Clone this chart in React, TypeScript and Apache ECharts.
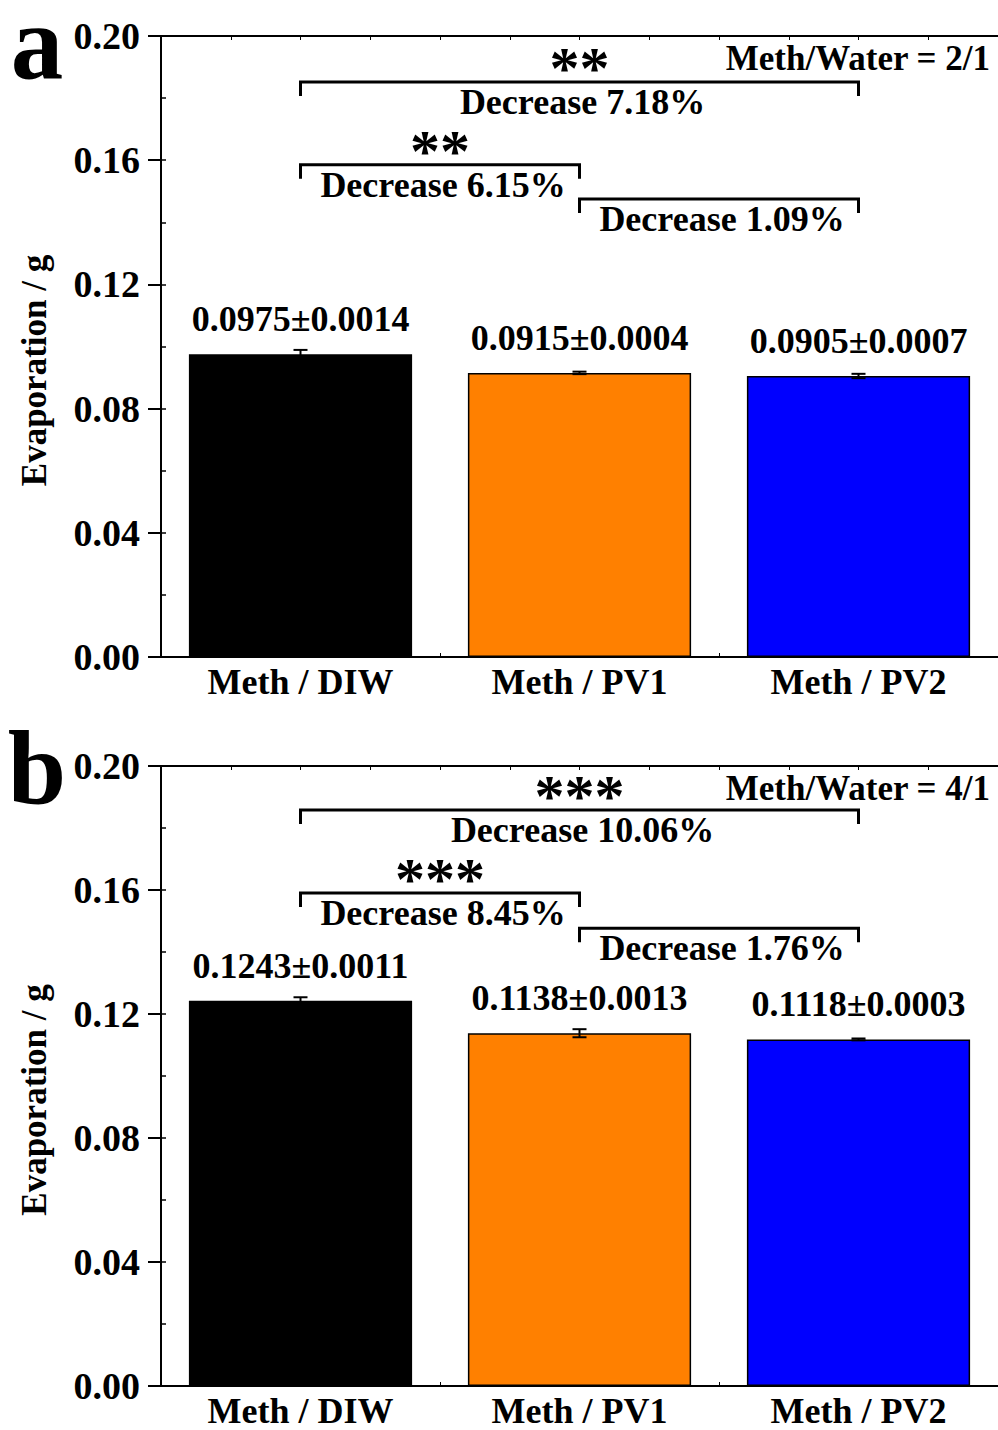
import React, { useEffect, useRef } from "react";
import * as echarts from "echarts";

const categories = ["Meth / DIW", "Meth / PV1", "Meth / PV2"];
const barColors = ["#000000", "#FF8000", "#0000FF"];
const meansA = [0.0975, 0.0915, 0.0905];
const sdA = [0.0014, 0.0004, 0.0007];
const meansB = [0.1243, 0.1138, 0.1118];
const sdB = [0.0011, 0.0013, 0.0003];
const yMin = 0;
const yMax = 0.2;
const yInterval = 0.04;
// brackets: [fromCategory, toCategory, yValue]
const bracketsA = [
  [0, 2, 0.1852],
  [0, 1, 0.1585],
  [1, 2, 0.1475],
];
const bracketTextA = ["Decrease 7.18%", "Decrease 6.15%", "Decrease 1.09%"];
const bracketStarsA = ["**", "**", ""];
const bracketsB = [
  [0, 2, 0.1858],
  [0, 1, 0.159],
  [1, 2, 0.1477],
];
const bracketTextB = ["Decrease 10.06%", "Decrease 8.45%", "Decrease 1.76%"];
const bracketStarsB = ["***", "***", ""];
const ratioLabels = ["Meth/Water = 2/1", "Meth/Water = 4/1"];
const panelLetters = ["a", "b"];
const yName = "Evaporation / g";

const FONT = "'Liberation Serif', 'Times New Roman', serif";

export default function App() {
  const ref = useRef<HTMLDivElement>(null);
  useEffect(() => {
    document.body.style.margin = "0";
    if (!ref.current) return;
    const chart = echarts.init(ref.current, null, { renderer: "svg" });

    const grids = [
      { left: 161, right: -3, top: 36, height: 621 },
      { left: 161, right: -3, top: 766, height: 620 },
    ];
    const panels = [
      { means: meansA, sd: sdA, br: bracketsA, bt: bracketTextA, bs: bracketStarsA },
      { means: meansB, sd: sdB, br: bracketsB, bt: bracketTextB, bs: bracketStarsB },
    ];

    const xAxis: any[] = [];
    const yAxis: any[] = [];
    const series: any[] = [];
    const graphic: any[] = [];

    panels.forEach((p, g) => {
      xAxis.push({
        type: "category",
        gridIndex: g,
        data: categories,
        axisLine: { show: true, lineStyle: { color: "#000", width: 2 } },
        axisTick: { show: false },
        axisLabel: {
          color: "#000",
          fontSize: 36,
          fontWeight: "bold",
          fontFamily: FONT,
          margin: 10,
          lineHeight: 30,
        },
      });
      xAxis.push({
        type: "value",
        gridIndex: g,
        min: 0,
        max: 3,
        interval: 0.25,
        position: "bottom",
        axisLine: { show: false },
        axisTick: { show: true, inside: true, length: 4, lineStyle: { color: "#000", width: 1 } },
        axisLabel: { show: false },
        splitLine: { show: false },
      });
      xAxis.push({
        type: "value",
        gridIndex: g,
        min: 0,
        max: 3,
        interval: 0.25,
        position: "top",
        axisLine: { show: true, lineStyle: { color: "#000", width: 2 } },
        axisTick: { show: true, inside: true, length: 4, lineStyle: { color: "#000", width: 1 } },
        axisLabel: { show: false },
        splitLine: { show: false },
      });
      yAxis.push({
        type: "value",
        gridIndex: g,
        min: yMin,
        max: yMax,
        interval: yInterval,
        axisLine: { show: true, lineStyle: { color: "#000", width: 2 } },
        axisTick: { show: true, inside: false, length: 13, lineStyle: { color: "#000", width: 2 } },
        axisLabel: {
          color: "#000",
          fontSize: 38,
          fontWeight: "bold",
          fontFamily: FONT,
          margin: 21,
          lineHeight: 32,
          formatter: (v: number) => v.toFixed(2),
        },
        splitLine: { show: false },
      });
      yAxis.push({
        type: "value",
        gridIndex: g,
        min: yMin,
        max: yMax,
        interval: yInterval / 2,
        position: "left",
        axisLine: { show: false },
        axisTick: { show: true, inside: true, length: 5, lineStyle: { color: "#000", width: 1.5 } },
        axisLabel: { show: false },
        splitLine: { show: false },
      });

      const xi = g * 3;
      const yi = g * 2;
      series.push({
        type: "bar",
        xAxisIndex: xi,
        yAxisIndex: yi,
        barWidth: "80%",
        data: p.means.map((v, i) => ({
          value: v,
          itemStyle: { color: barColors[i], borderColor: "#000", borderWidth: 1.5 },
        })),
        label: {
          show: true,
          position: "top",
          distance: 20,
          color: "#000",
          fontSize: 36,
          fontWeight: "bold",
          fontFamily: FONT,
          lineHeight: 30,
          formatter: (q: any) =>
            `${p.means[q.dataIndex].toFixed(4)}±${p.sd[q.dataIndex].toFixed(4)}`,
        },
      });
      series.push({
        type: "custom",
        xAxisIndex: xi,
        yAxisIndex: yi,
        z: 5,
        data: p.means.map((v, i) => [i, v, p.sd[i]]),
        encode: { x: 0, y: 1 },
        renderItem: (params: any, api: any) => {
          const i = api.value(0);
          const m = api.value(1);
          const s = api.value(2);
          const top = api.coord([i, m + s]);
          const bot = api.coord([i, m - s]);
          const hw = 7;
          const st = { stroke: "#000", lineWidth: 2 };
          return {
            type: "group",
            children: [
              { type: "line", shape: { x1: top[0], y1: top[1], x2: bot[0], y2: bot[1] }, style: st },
              { type: "line", shape: { x1: top[0] - hw, y1: top[1], x2: top[0] + hw, y2: top[1] }, style: st },
              { type: "line", shape: { x1: bot[0] - hw, y1: bot[1], x2: bot[0] + hw, y2: bot[1] }, style: st },
            ],
          };
        },
      });
      series.push({
        type: "custom",
        xAxisIndex: xi,
        yAxisIndex: yi,
        z: 6,
        clip: false,
        data: p.br.map((b) => [b[0], b[1], b[2]]),
        encode: { x: [0, 1], y: 2 },
        renderItem: (params: any, api: any) => {
          const idx = params.dataIndex;
          const a = api.coord([api.value(0), api.value(2)]);
          const b = api.coord([api.value(1), api.value(2)]);
          const leg = 14;
          const mid = (a[0] + b[0]) / 2;
          const children: any[] = [
            {
              type: "polyline",
              shape: { points: [[a[0], a[1] + leg], [a[0], a[1]], [b[0], b[1]], [b[0], b[1] + leg]] },
              style: { stroke: "#000", lineWidth: 3, fill: null },
            },
            {
              type: "text",
              x: mid + 3,
              y: a[1] + 20,
              style: {
                text: p.bt[idx],
                fill: "#000",
                font: `bold 36px ${FONT}`,
                lineHeight: 28,
                align: "center",
                verticalAlign: "middle",
              },
            },
          ];
          if (p.bs[idx]) {
            children.push({
              type: "text",
              x: mid,
              y: a[1] - 14,
              style: {
                text: p.bs[idx],
                fill: "#000",
                font: `bold 60px ${FONT}`,
                lineHeight: 20,
                align: "center",
                verticalAlign: "middle",
              },
            });
          }
          return { type: "group", children };
        },
      });

      const top = grids[g].top;
      const h = grids[g].height;
      graphic.push({
        type: "text",
        x: 990,
        y: top + 22,
        style: {
          text: ratioLabels[g],
          fill: "#000",
          font: `bold 35px ${FONT}`,
          lineHeight: 28,
          align: "right",
          verticalAlign: "middle",
        },
      });
      graphic.push({
        type: "text",
        x: 37,
        y: top + 6 - (g === 1 ? 4 : 0),
        style: {
          text: panelLetters[g],
          fill: "#000",
          font: `bold 105px ${FONT}`,
          lineHeight: 70,
          align: "center",
          verticalAlign: "middle",
        },
      });
      graphic.push({
        type: "text",
        x: 34,
        y: top + h / 2 + 24,
        rotation: Math.PI / 2,
        style: {
          text: yName,
          fill: "#000",
          font: `bold 35px ${FONT}`,
          lineHeight: 30,
          align: "center",
          verticalAlign: "middle",
        },
      });
    });

    chart.setOption({
      animation: false,
      backgroundColor: "#fff",
      grid: grids,
      xAxis,
      yAxis,
      series,
      graphic,
    });
    return () => chart.dispose();
  }, []);
  return <div ref={ref} style={{ width: 998, height: 1430 }} />;
}
